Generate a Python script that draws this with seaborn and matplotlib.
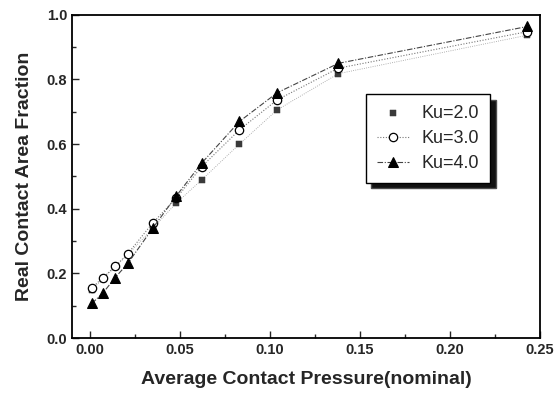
import numpy as np
import pandas as pd
import seaborn as sns
import matplotlib.pyplot as plt
from matplotlib.ticker import MultipleLocator

sns.set_style('ticks')
plt.rcParams['font.family'] = ['Liberation Sans', 'DejaVu Sans']
plt.rcParams['font.weight'] = 'bold'

# average contact pressure (nominal)
pressure = [0.001, 0.007, 0.014, 0.021, 0.035, 0.048, 0.062, 0.083, 0.104, 0.138, 0.243]
# real contact area fraction for each kurtosis
ku2 = [0.150, 0.182, 0.220, 0.258, 0.340, 0.418, 0.489, 0.600, 0.706, 0.818, 0.937]
ku3 = [0.155, 0.186, 0.222, 0.261, 0.357, 0.433, 0.530, 0.644, 0.737, 0.835, 0.948]
ku4 = [0.107, 0.138, 0.187, 0.231, 0.341, 0.440, 0.541, 0.670, 0.759, 0.850, 0.964]
xticks = [0.0, 0.05, 0.10, 0.15, 0.20, 0.25]
xlabels = ['0.00', '0.05', '0.10', '0.15', '0.20', '0.25']
yticks = [0.0, 0.2, 0.4, 0.6, 0.8, 1.0]
ylabels = ['0.0', '0.2', '0.4', '0.6', '0.8', '1.0']

df2 = pd.DataFrame({'p': pressure, 'f': ku2})
df3 = pd.DataFrame({'p': pressure, 'f': ku3})
df4 = pd.DataFrame({'p': pressure, 'f': ku4})

fig = plt.figure(figsize=(5.55, 4.01), dpi=100)
ax = fig.add_axes([0.1297, 0.157, 0.8433, 0.806])

sns.lineplot(data=df2, x='p', y='f', ax=ax, color='#999999', lw=0.6,
             linestyle=':', legend=False)
sns.scatterplot(data=df2, x='p', y='f', ax=ax, marker='s', s=20,
                color='#3a3a3a', edgecolor='#3a3a3a', label='Ku=2.0', zorder=3)
sns.lineplot(data=df3, x='p', y='f', ax=ax, color='#777777', lw=0.8,
             linestyle=(0, (1, 1.5)), marker='o', markersize=6,
             markerfacecolor='white', markeredgecolor='black',
             markeredgewidth=0.9, label='Ku=3.0', zorder=4)
sns.lineplot(data=df4, x='p', y='f', ax=ax, color='#444444', lw=0.8,
             linestyle=(0, (5, 1.5, 1, 1.5)), marker='^', markersize=7,
             markerfacecolor='black', markeredgecolor='black',
             label='Ku=4.0', zorder=5)

ax.set_xlim(-0.01, 0.25)
ax.set_ylim(0.0, 1.0)
ax.set_xticks(xticks, xlabels)
ax.set_yticks(yticks, ylabels)
ax.xaxis.set_minor_locator(MultipleLocator(0.025))
ax.yaxis.set_minor_locator(MultipleLocator(0.1))
ax.tick_params(which='major', direction='in', length=5, width=1, labelsize=10.5)
ax.tick_params(which='minor', direction='in', length=3, width=1)
for lab in ax.get_xticklabels() + ax.get_yticklabels():
    lab.set_fontweight('bold')
for sp in ax.spines.values():
    sp.set_visible(True)
    sp.set_linewidth(1.3)
    sp.set_color('black')

ax.set_xlabel('Average Contact Pressure(nominal)', fontsize=14,
              fontweight='bold', labelpad=10)
ax.set_ylabel('Real Contact Area Fraction', fontsize=14,
              fontweight='bold', labelpad=10)

leg = ax.legend(loc='upper left', bbox_to_anchor=(0.628, 0.755),
                borderaxespad=0, fancybox=False, framealpha=1, edgecolor='black',
                shadow={'ox': 4, 'oy': -4, 'facecolor': '#111111', 'alpha': 1},
                prop={'size': 13, 'weight': 'normal'}, handlelength=1.8,
                handletextpad=0.7, borderpad=0.6, labelspacing=0.45)
leg.get_frame().set_linewidth(1.0)

plt.savefig('out.png', dpi=100)
